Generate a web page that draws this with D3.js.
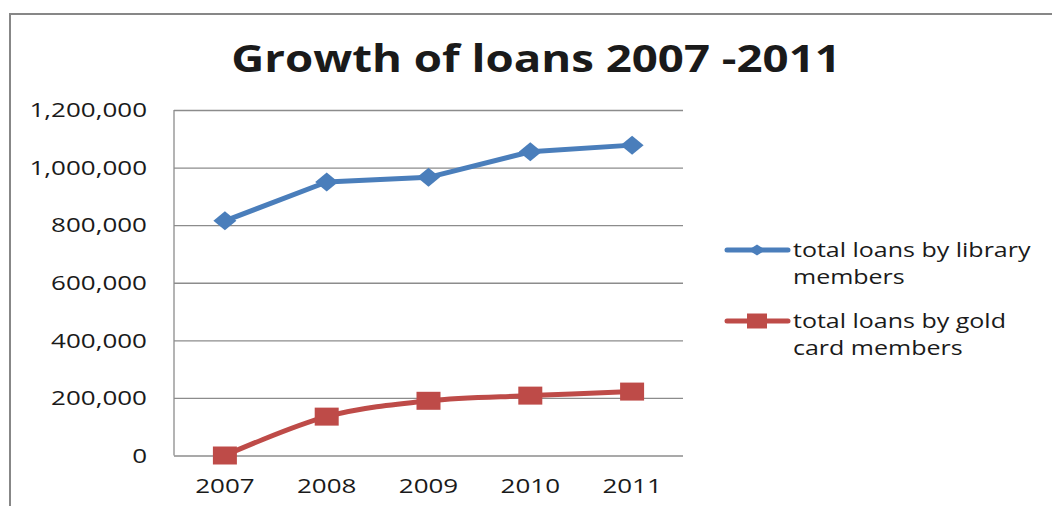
<!DOCTYPE html>
<html>
<head>
<meta charset="utf-8">
<script src="https://cdn.jsdelivr.net/npm/d3@7"></script>
<style>
  body { margin: 0; background: #fff; }
  text { font-family: "Open Sans", "Noto Sans", sans-serif; fill: #1a1a1a; }
</style>
</head>
<body>
<div id="chart-area"></div>
<script>
// chart data
const years = ["2007", "2008", "2009", "2010", "2011"];
const libraryLoans = [815000, 950000, 966000, 1055000, 1078000];
const goldLoans = [0, 135000, 190000, 208000, 222000];
const yTicks = [0, 200000, 400000, 600000, 800000, 1000000, 1200000];
const seriesNames = [["total loans by library", "members"], ["total loans by gold", "card members"]];

const W = 1052, H = 506;
const SX = 1.3; // horizontal text stretch

const margin = { left: 174, top: 110, right: 369, bottom: 50.5 };
const width = W - margin.left - margin.right;
const height = H - margin.top - margin.bottom;

const svg = d3.select("#chart-area").append("svg")
  .attr("width", W)
  .attr("height", H);

// outer frame (left and top edges only visible)
svg.append("path")
  .attr("d", `M10,${H} V14 H${W}`)
  .attr("fill", "none")
  .attr("stroke", "#878787")
  .attr("stroke-width", 2);

const stretchText = (sel, x, y, sx = SX) =>
  sel.attr("transform", `translate(${x},${y}) scale(${sx},1)`);

// title
stretchText(svg.append("text"), 536, 72, 1.2)
  .attr("text-anchor", "middle")
  .attr("font-size", "38px")
  .attr("font-weight", "bold")
  .attr("fill", "#000")
  .text("Growth of loans 2007 -2011");

const g = svg.append("g")
  .attr("transform", `translate(${margin.left},${margin.top})`);

const x = d3.scalePoint()
  .domain(years)
  .range([0, width])
  .padding(0.5);

const y = d3.scaleLinear()
  .domain([0, 1200000])
  .range([height, 0]);

// gridlines
g.append("g")
  .call(d3.axisLeft(y).tickValues(yTicks).tickSize(-width).tickFormat(""))
  .call(a => a.select(".domain").remove())
  .selectAll("line")
  .attr("stroke", "#8c8c8c")
  .attr("stroke-width", 1.3);

// axis line
g.append("line")
  .attr("x1", 0).attr("x2", 0)
  .attr("y1", 0).attr("y2", height)
  .attr("stroke", "#8c8c8c").attr("stroke-width", 1.3);

// y labels
g.selectAll(".y-label")
  .data(yTicks)
  .enter().append("text")
  .attr("class", "y-label")
  .attr("text-anchor", "end")
  .attr("font-size", "20px")
  .attr("dy", "0.36em")
  .each(function (d) { stretchText(d3.select(this), -27, y(d)); })
  .text(d => d3.format(",")(d));

// x labels
g.selectAll(".x-label")
  .data(years)
  .enter().append("text")
  .attr("class", "x-label")
  .attr("text-anchor", "middle")
  .attr("font-size", "20px")
  .each(function (d) { stretchText(d3.select(this), x(d), height + 37); })
  .text(d => d);

const blue = "#4a7ebb", red = "#be4b48";

const lineLinear = d3.line()
  .x((d, i) => x(years[i]))
  .y(d => y(d));

const lineSmooth = d3.line()
  .x((d, i) => x(years[i]))
  .y(d => y(d))
  .curve(d3.curveCatmullRom.alpha(0.5));

const diamond = (w, h) => `M0,${-h / 2} L${w / 2},0 L0,${h / 2} L${-w / 2},0 Z`;
const rectPath = (w, h) => `M${-w / 2},${-h / 2} h${w} v${h} h${-w} Z`;

// blue series
g.append("path")
  .datum(libraryLoans)
  .attr("fill", "none")
  .attr("stroke", blue)
  .attr("stroke-width", 5)
  .attr("stroke-linejoin", "round")
  .attr("d", lineLinear);

g.selectAll(".blue-mark")
  .data(libraryLoans)
  .enter().append("path")
  .attr("class", "blue-mark")
  .attr("fill", blue)
  .attr("transform", (d, i) => `translate(${x(years[i])},${y(d)})`)
  .attr("d", diamond(23, 19));

// red series
g.append("path")
  .datum(goldLoans)
  .attr("fill", "none")
  .attr("stroke", red)
  .attr("stroke-width", 5)
  .attr("stroke-linejoin", "round")
  .attr("d", lineSmooth);

g.selectAll(".red-mark")
  .data(goldLoans)
  .enter().append("path")
  .attr("class", "red-mark")
  .attr("fill", red)
  .attr("transform", (d, i) => `translate(${x(years[i])},${y(d)})`)
  .attr("d", rectPath(24, 18));

// legend
const legend = svg.append("g");
const legendRows = [
  { color: blue, y: 250, shape: diamond(17, 11), lines: seriesNames[0] },
  { color: red, y: 321, shape: rectPath(20, 15), lines: seriesNames[1] }
];

legendRows.forEach(r => {
  legend.append("line")
    .attr("x1", 727).attr("x2", 788)
    .attr("y1", r.y).attr("y2", r.y)
    .attr("stroke", r.color)
    .attr("stroke-width", 5)
    .attr("stroke-linecap", "round");
  legend.append("path")
    .attr("transform", `translate(757,${r.y})`)
    .attr("fill", r.color)
    .attr("d", r.shape);
  r.lines.forEach((t, i) => {
    stretchText(legend.append("text"), 793, r.y + 7 + i * 27, 1.25)
      .attr("font-size", "20px")
      .attr("fill", "#333")
      .text(t);
  });
});
</script>
</body>
</html>
